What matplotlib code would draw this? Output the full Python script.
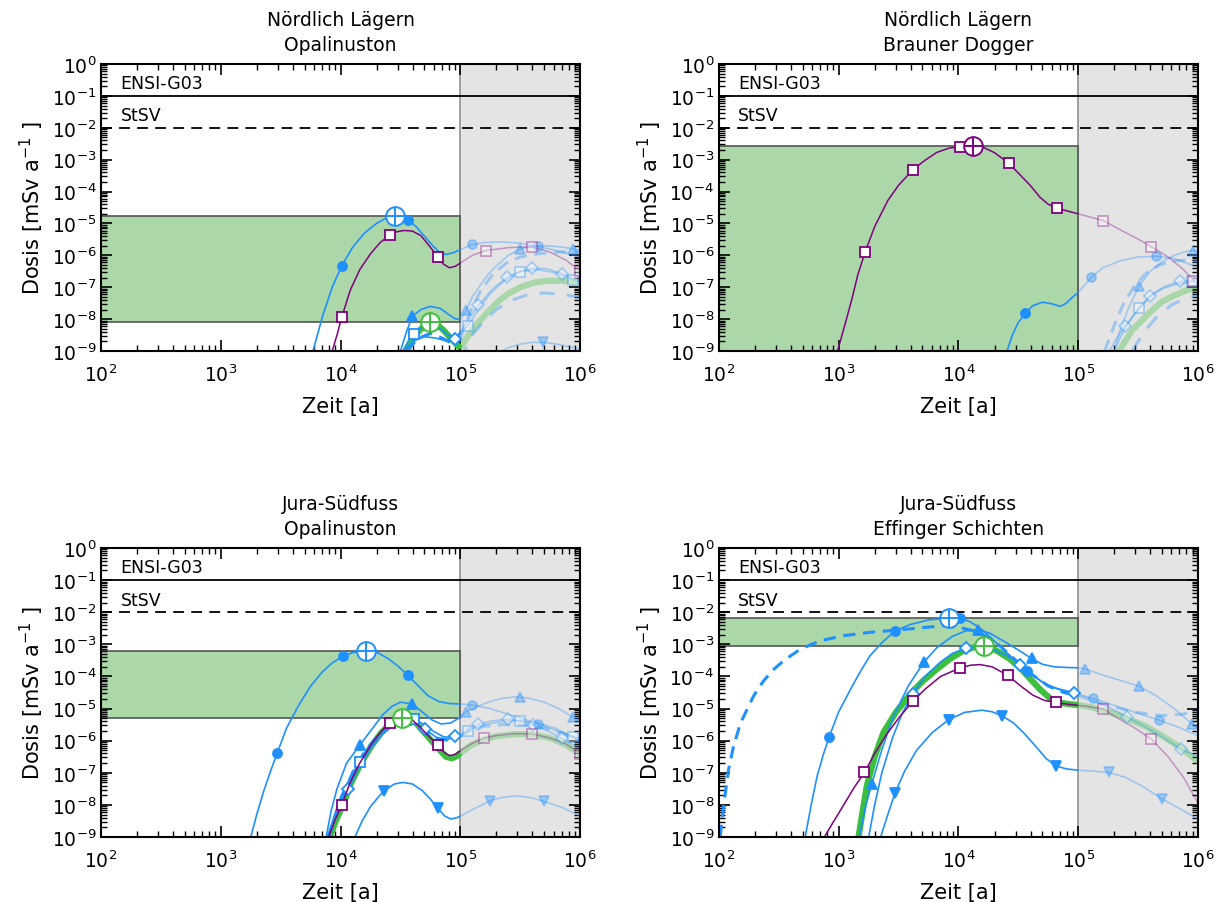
import numpy as np
import matplotlib.pyplot as plt
from matplotlib.ticker import LogLocator, NullFormatter
from matplotlib.patches import Rectangle

# Werte als (log10 Zeit [a], log10 Dosis [mSv/a])

T_CUT = 1e5

TITLES = ["Nördlich Lägern\nOpalinuston",
          "Nördlich Lägern\nBrauner Dogger",
          "Jura-Südfuss\nOpalinuston",
          "Jura-Südfuss\nEffinger Schichten"]

LIMITS = [0.1, 0.01]
LIMIT_NAMES = ["ENSI-G03", "StSV"]

# --- Nördlich Lägern, Opalinuston
NLO_CIRC = [(3.77, -9.0), (3.85, -7.9), (3.93, -7.0), (4.01, -6.33), (4.1, -5.75), (4.2, -5.3),
            (4.3, -5.0), (4.38, -4.83), (4.455, -4.76), (4.5, -4.78), (4.56, -4.88), (4.63, -5.1),
            (4.7, -5.4), (4.77, -5.7), (4.83, -5.92), (4.88, -5.97), (4.94, -5.92), (5.0, -5.82),
            (5.1, -5.66), (5.2, -5.6), (5.35, -5.58), (5.5, -5.62), (5.65, -5.72), (5.8, -5.85),
            (6.0, -6.05)]
NLO_CIRC_MK = [(4.01, -6.33), (4.56, -4.88), (5.1, -5.66), (5.65, -5.72)]
NLO_PURP = [(3.93, -9.0), (3.97, -8.5), (4.01, -7.94), (4.08, -7.1), (4.16, -6.45), (4.25, -5.95),
            (4.33, -5.6), (4.41, -5.37), (4.47, -5.26), (4.53, -5.22), (4.6, -5.24), (4.67, -5.38),
            (4.74, -5.7), (4.81, -6.04), (4.86, -6.28), (4.91, -6.39), (4.96, -6.34), (5.0, -6.24),
            (5.1, -6.0), (5.21, -5.85), (5.4, -5.76), (5.6, -5.73), (5.75, -5.9), (5.88, -6.15),
            (6.0, -6.48)]
NLO_PURP_MK = [(4.01, -7.94), (4.41, -5.37), (4.81, -6.04), (5.21, -5.85), (5.6, -5.73), (6.0, -6.48)]
NLO_TRI = [(4.5, -9.0), (4.55, -8.4), (4.6, -7.91), (4.67, -7.7), (4.75, -7.6), (4.83, -7.66),
           (4.9, -7.85), (4.95, -7.98), (5.0, -8.02), (5.05, -7.73), (5.1, -7.3), (5.165, -6.95),
           (5.23, -6.6), (5.305, -6.32), (5.4, -6.0), (5.5, -5.8), (5.6, -5.72), (5.72, -5.7),
           (5.85, -5.74), (5.94, -5.8), (6.0, -5.84)]
NLO_TRI_MK = [(4.6, -7.91), (5.05, -7.73), (5.5, -5.8), (5.94, -5.8)]
NLO_SQ = [(4.52, -9.0), (4.57, -8.65), (4.61, -8.46), (4.68, -8.25), (4.75, -8.2), (4.83, -8.3),
          (4.9, -8.5), (4.96, -8.55), (5.0, -8.45), (5.06, -8.23), (5.15, -7.7), (5.25, -7.2),
          (5.35, -6.85), (5.5, -6.51), (5.65, -6.45), (5.8, -6.55), (5.94, -6.77), (6.0, -6.85)]
NLO_SQ_MK = [(4.61, -8.46), (5.06, -8.23), (5.5, -6.51), (5.94, -6.77)]
NLO_DIA = [(4.53, -9.0), (4.6, -8.7), (4.7, -8.55), (4.8, -8.6), (4.9, -8.7), (4.956, -8.62),
           (5.0, -8.4), (5.07, -8.0), (5.15, -7.57), (5.27, -7.05), (5.39, -6.69), (5.5, -6.5),
           (5.6, -6.41), (5.72, -6.42), (5.85, -6.58), (6.0, -6.8)]
NLO_DIA_MK = [(4.956, -8.62), (5.15, -7.57), (5.39, -6.69), (5.6, -6.41), (5.85, -6.58)]
NLO_DASH = [(4.55, -9.0), (4.65, -8.6), (4.75, -8.45), (4.85, -8.6), (4.95, -8.8), (5.0, -8.6),
            (5.08, -7.8), (5.17, -7.1), (5.27, -6.6), (5.38, -6.25), (5.5, -6.05), (5.65, -5.95),
            (5.8, -5.9), (6.0, -5.88)]
NLO_DASH2 = [(5.0, -9.3), (5.1, -8.5), (5.2, -8.05), (5.3, -7.7), (5.42, -7.42), (5.55, -7.25),
             (5.7, -7.18), (5.85, -7.22), (6.0, -7.32)]
NLO_TRIDN = [(5.3, -9.1), (5.4, -8.9), (5.5, -8.78), (5.6, -8.73), (5.69, -8.73), (5.8, -8.78),
             (5.9, -8.86), (6.0, -8.95)]
NLO_TRIDN_MK = [(5.69, -8.73)]
NLO_GREEN = [(4.55, -9.0), (4.6, -8.65), (4.66, -8.35), (4.72, -8.15), (4.75, -8.1), (4.8, -8.15),
             (4.86, -8.35), (4.92, -8.6), (4.97, -8.8), (5.0, -8.92), (5.05, -8.6), (5.12, -8.25),
             (5.2, -7.9), (5.3, -7.5), (5.4, -7.2), (5.5, -7.0), (5.62, -6.85), (5.72, -6.8),
             (5.85, -6.8), (6.0, -6.85)]

# --- Nördlich Lägern, Brauner Dogger
NLD_PURP = [(2.99, -9.0), (3.05, -8.2), (3.11, -7.37), (3.16, -6.6), (3.22, -5.9), (3.3, -5.1),
            (3.41, -4.28), (3.5, -3.8), (3.62, -3.31), (3.72, -3.02), (3.82, -2.77), (3.92, -2.64),
            (4.01, -2.59), (4.12, -2.56), (4.2, -2.6), (4.3, -2.78), (4.42, -3.11), (4.52, -3.5),
            (4.6, -3.81), (4.68, -4.18), (4.75, -4.4), (4.82, -4.51), (4.9, -4.6), (5.0, -4.7),
            (5.1, -4.8), (5.21, -4.91), (5.35, -5.2), (5.48, -5.45), (5.61, -5.73), (5.75, -6.05),
            (5.88, -6.45), (6.0, -6.95)]
NLD_PURP_MK = [(3.22, -5.9), (3.62, -3.31), (4.01, -2.59), (4.42, -3.11), (4.82, -4.51),
               (5.21, -4.91), (5.61, -5.73), (5.96, -6.82)]
NLD_CIRC = [(4.405, -9.0), (4.45, -8.5), (4.5, -8.1), (4.558, -7.82), (4.62, -7.58), (4.7, -7.47),
            (4.78, -7.52), (4.85, -7.6), (4.9, -7.5), (4.95, -7.32), (5.0, -7.16), (5.11, -6.69),
            (5.2, -6.4), (5.35, -6.17), (5.5, -6.05), (5.65, -6.03), (5.8, -6.1), (5.96, -6.32),
            (6.0, -6.38)]
NLD_CIRC_MK = [(4.558, -7.82), (5.11, -6.69), (5.65, -6.03)]
NLD_TRI = [(5.3, -9.0), (5.35, -8.35), (5.42, -7.65), (5.51, -6.95), (5.6, -6.5), (5.7, -6.2),
           (5.8, -6.0), (5.9, -5.88), (5.96, -5.85), (6.0, -5.85)]
NLD_TRI_MK = [(5.51, -6.95), (5.96, -5.85)]
NLD_DASH = [(5.22, -9.0), (5.3, -8.2), (5.38, -7.5), (5.47, -6.95), (5.57, -6.55), (5.68, -6.3),
            (5.8, -6.17), (5.9, -6.15), (6.0, -6.2)]
NLD_SQ = [(5.3, -9.0), (5.38, -8.35), (5.45, -7.95), (5.51, -7.65), (5.6, -7.3), (5.7, -7.05),
          (5.82, -6.9), (5.95, -6.84), (6.0, -6.84)]
NLD_SQ_MK = [(5.51, -7.65), (5.95, -6.84)]
NLD_DIA = [(5.26, -9.0), (5.32, -8.6), (5.39, -8.22), (5.5, -7.7), (5.6, -7.26), (5.72, -6.98),
           (5.85, -6.82), (6.0, -6.78)]
NLD_DIA_MK = [(5.39, -8.22), (5.6, -7.26), (5.85, -6.82)]
NLD_DASH2 = [(5.45, -9.0), (5.55, -8.4), (5.65, -7.95), (5.78, -7.55), (5.9, -7.35), (6.0, -7.25)]
NLD_GREEN = [(5.34, -9.0), (5.45, -8.35), (5.6, -7.78), (5.7, -7.45), (5.8, -7.26), (5.9, -7.1),
             (6.0, -7.0)]

# --- Jura-Südfuss, Opalinuston
JSO_CIRC = [(3.25, -9.0), (3.3, -8.3), (3.36, -7.55), (3.42, -6.9), (3.47, -6.39), (3.55, -5.6),
            (3.65, -4.9), (3.75, -4.3), (3.85, -3.85), (3.93, -3.58), (4.02, -3.37), (4.1, -3.26),
            (4.21, -3.2), (4.3, -3.24), (4.4, -3.45), (4.48, -3.68), (4.56, -3.96), (4.65, -4.3),
            (4.73, -4.6), (4.82, -4.78), (4.9, -4.84), (5.0, -4.86), (5.1, -4.89), (5.25, -5.0),
            (5.4, -5.18), (5.55, -5.35), (5.7, -5.55), (5.85, -5.75), (6.0, -5.95)]
JSO_CIRC_MK = [(3.47, -6.39), (4.02, -3.37), (4.56, -3.96), (5.1, -4.89), (5.65, -5.48)]
JSO_TRI = [(3.88, -9.0), (3.92, -8.2), (3.97, -7.5), (4.05, -6.7), (4.16, -6.14), (4.25, -5.7),
           (4.35, -5.2), (4.43, -4.93), (4.5, -4.8), (4.6, -4.86), (4.68, -5.1), (4.76, -5.35),
           (4.84, -5.48), (4.92, -5.45), (5.0, -5.27), (5.05, -5.1), (5.15, -4.92), (5.25, -4.78),
           (5.35, -4.68), (5.45, -4.64), (5.55, -4.66), (5.7, -4.8), (5.82, -5.0), (5.94, -5.27),
           (6.0, -5.38)]
JSO_TRI_MK = [(4.16, -6.14), (4.6, -4.86), (5.05, -5.1), (5.5, -4.65), (5.94, -5.27)]
JSO_SQ = [(3.89, -9.0), (3.95, -8.3), (4.0, -7.75), (4.08, -7.15), (4.158, -6.66), (4.25, -6.1),
          (4.35, -5.7), (4.45, -5.45), (4.53, -5.33), (4.61, -5.33), (4.7, -5.5), (4.78, -5.72),
          (4.86, -5.88), (4.93, -5.9), (5.0, -5.8), (5.1, -5.62), (5.2, -5.5), (5.35, -5.4),
          (5.5, -5.38), (5.65, -5.45), (5.8, -5.62), (5.94, -5.9), (6.0, -6.02)]
JSO_SQ_MK = [(4.158, -6.66), (4.61, -5.33), (5.06, -5.7), (5.5, -5.38), (5.94, -5.9)]
JSO_DIA = [(3.9, -9.0), (3.98, -8.2), (4.066, -7.51), (4.15, -6.85), (4.25, -6.25), (4.35, -5.8),
           (4.45, -5.5), (4.55, -5.42), (4.63, -5.48), (4.707, -5.64), (4.8, -5.9), (4.88, -6.0),
           (4.957, -5.85), (5.05, -5.65), (5.15, -5.48), (5.27, -5.38), (5.4, -5.33), (5.5, -5.38),
           (5.61, -5.51), (5.73, -5.7), (5.85, -5.93), (6.0, -6.25)]
JSO_DIA_MK = [(4.066, -7.51), (4.707, -5.64), (4.957, -5.85), (5.15, -5.48), (5.4, -5.33),
              (5.61, -5.51), (5.85, -5.93)]
JSO_DASH = [(3.9, -9.0), (4.0, -7.9), (4.1, -7.0), (4.2, -6.35), (4.3, -5.9), (4.4, -5.6),
            (4.5, -5.45), (4.6, -5.5), (4.7, -5.7), (4.8, -5.92), (4.9, -5.98), (5.0, -5.85),
            (5.1, -5.65), (5.2, -5.55), (5.35, -5.5), (5.5, -5.5), (5.7, -5.6), (5.85, -5.78),
            (6.0, -6.0)]
JSO_PURP = [(3.9, -9.0), (3.95, -8.5), (4.01, -8.0), (4.08, -7.3), (4.16, -6.7), (4.25, -6.15),
            (4.33, -5.75), (4.41, -5.44), (4.47, -5.33), (4.53, -5.31), (4.6, -5.36), (4.67, -5.6),
            (4.74, -5.88), (4.81, -6.12), (4.86, -6.35), (4.91, -6.47), (4.96, -6.42), (5.0, -6.31),
            (5.1, -6.08), (5.2, -5.92), (5.3, -5.84), (5.45, -5.78), (5.6, -5.79), (5.75, -5.92),
            (5.88, -6.1), (6.0, -6.4)]
JSO_PURP_MK = [(4.01, -8.0), (4.41, -5.44), (4.81, -6.12), (5.2, -5.92), (5.6, -5.79), (6.0, -6.4)]
JSO_TRIDN = [(4.12, -9.0), (4.18, -8.5), (4.25, -8.05), (4.36, -7.56), (4.45, -7.35), (4.52, -7.3),
             (4.6, -7.35), (4.68, -7.55), (4.75, -7.82), (4.81, -8.1), (4.87, -8.35), (4.92, -8.44),
             (4.97, -8.4), (5.0, -8.35), (5.1, -8.15), (5.25, -7.87), (5.35, -7.77), (5.47, -7.72),
             (5.6, -7.78), (5.695, -7.89), (5.85, -8.08), (6.0, -8.35)]
JSO_TRIDN_MK = [(4.36, -7.56), (4.81, -8.1), (5.25, -7.87), (5.695, -7.89)]
JSO_GREEN = [(3.91, -9.0), (3.96, -8.5), (4.02, -8.0), (4.09, -7.3), (4.17, -6.7), (4.26, -6.15),
             (4.34, -5.75), (4.42, -5.44), (4.47, -5.34), (4.51, -5.30), (4.57, -5.33), (4.63, -5.45),
             (4.7, -5.75), (4.77, -6.05), (4.83, -6.3), (4.88, -6.5), (4.93, -6.55), (4.97, -6.48),
             (5.0, -6.38), (5.1, -6.12), (5.2, -5.96), (5.3, -5.86), (5.45, -5.8), (5.6, -5.8),
             (5.75, -5.92), (5.88, -6.12), (6.0, -6.42)]

# --- Jura-Südfuss, Effinger Schichten
JSE_DASH = [(2.01, -9.0), (2.04, -8.0), (2.08, -6.9), (2.12, -6.2), (2.18, -5.45), (2.29, -4.6),
            (2.37, -4.15), (2.45, -3.8), (2.55, -3.48), (2.68, -3.15), (2.845, -2.89), (3.04, -2.73),
            (3.25, -2.63), (3.47, -2.56), (3.7, -2.48), (3.875, -2.42), (4.0, -2.47), (4.155, -2.6),
            (4.3, -2.9), (4.45, -3.4), (4.6, -3.9), (4.75, -4.3), (4.88, -4.5), (5.0, -4.6),
            (5.2, -4.85), (5.45, -5.1), (5.69, -5.22), (5.85, -5.18), (6.0, -5.1)]
JSE_CIRC = [(2.72, -9.0), (2.77, -8.0), (2.82, -7.1), (2.87, -6.45), (2.92, -5.88), (3.0, -5.1),
            (3.1, -4.39), (3.18, -3.85), (3.26, -3.36), (3.36, -2.95), (3.47, -2.58), (3.6, -2.38),
            (3.75, -2.24), (3.917, -2.18), (4.015, -2.19), (4.1, -2.3), (4.2, -2.55), (4.3, -2.9),
            (4.4, -3.25), (4.5, -3.58), (4.57, -3.82), (4.65, -4.05), (4.75, -4.28), (4.85, -4.42),
            (5.0, -4.55), (5.12, -4.68), (5.3, -4.9), (5.5, -5.15), (5.67, -5.35), (5.85, -5.6),
            (6.0, -5.85)]
JSE_CIRC_MK = [(2.92, -5.88), (3.47, -2.58), (4.015, -2.19), (4.57, -3.82), (5.12, -4.68),
               (5.67, -5.35)]
JSE_TRI = [(3.17, -9.0), (3.22, -8.1), (3.276, -7.35), (3.35, -6.4), (3.45, -5.3), (3.58, -4.3),
           (3.71, -3.56), (3.82, -3.1), (3.95, -2.75), (4.06, -2.58), (4.16, -2.55), (4.26, -2.65),
           (4.4, -2.95), (4.51, -3.2), (4.61, -3.44), (4.7, -3.62), (4.8, -3.7), (4.9, -3.72),
           (5.0, -3.73), (5.06, -3.77), (5.2, -3.95), (5.35, -4.12), (5.51, -4.31), (5.65, -4.6),
           (5.8, -5.0), (5.95, -5.48), (6.0, -5.62)]
JSE_TRI_MK = [(3.276, -7.35), (3.71, -3.56), (4.16, -2.55), (4.61, -3.44), (5.06, -3.77),
              (5.51, -4.31), (5.95, -5.48)]
JSE_DIA = [(3.25, -9.0), (3.3, -8.0), (3.36, -7.0), (3.45, -5.9), (3.53, -5.15), (3.616, -4.55),
           (3.72, -4.0), (3.85, -3.55), (3.95, -3.28), (4.066, -3.12), (4.18, -3.07), (4.3, -3.18),
           (4.42, -3.38), (4.516, -3.63), (4.6, -3.9), (4.7, -4.18), (4.8, -4.35), (4.9, -4.45),
           (4.963, -4.5), (5.1, -4.72), (5.25, -4.95), (5.41, -5.27), (5.55, -5.55), (5.7, -5.88),
           (5.855, -6.26), (6.0, -6.5)]
JSE_DIA_MK = [(3.616, -4.55), (4.066, -3.12), (4.516, -3.63), (4.963, -4.5), (5.41, -5.27),
              (5.855, -6.26)]
JSE_PURP = [(2.88, -9.0), (2.96, -8.5), (3.05, -7.95), (3.13, -7.45), (3.215, -6.99), (3.3, -6.4),
            (3.4, -5.8), (3.5, -5.3), (3.616, -4.78), (3.72, -4.4), (3.85, -4.0), (4.015, -3.73),
            (4.1, -3.65), (4.18, -3.63), (4.28, -3.7), (4.41, -3.96), (4.52, -4.3), (4.62, -4.58),
            (4.72, -4.75), (4.815, -4.81), (4.9, -4.86), (5.0, -4.9), (5.1, -4.95), (5.21, -5.02),
            (5.33, -5.3), (5.47, -5.6), (5.61, -5.95), (5.75, -6.5), (5.88, -7.15), (6.0, -7.95)]
JSE_PURP_MK = [(3.215, -6.99), (3.616, -4.78), (4.015, -3.73), (4.41, -3.96), (4.815, -4.81),
               (5.21, -5.02), (5.61, -5.95)]
JSE_TRIDN = [(3.35, -9.0), (3.41, -8.3), (3.47, -7.63), (3.55, -6.95), (3.65, -6.3), (3.78, -5.75),
             (3.917, -5.35), (4.05, -5.12), (4.196, -5.05), (4.28, -5.1), (4.36, -5.22), (4.46, -5.45),
             (4.55, -5.78), (4.65, -6.2), (4.73, -6.55), (4.81, -6.78), (4.9, -6.88), (5.0, -6.92),
             (5.13, -6.95), (5.255, -6.99), (5.4, -7.15), (5.55, -7.45), (5.7, -7.82), (5.85, -8.12),
             (6.0, -8.45)]
JSE_TRIDN_MK = [(3.47, -7.63), (3.917, -5.35), (4.36, -5.22), (4.81, -6.78), (5.255, -6.99),
                (5.7, -7.82)]
JSE_GREEN = [(3.165, -9.0), (3.2, -8.2), (3.235, -7.4), (3.3, -6.5), (3.374, -5.74), (3.48, -5.1),
             (3.597, -4.55), (3.7, -4.15), (3.82, -3.77), (3.93, -3.45), (4.04, -3.2), (4.13, -3.09),
             (4.216, -3.06), (4.32, -3.2), (4.43, -3.46), (4.52, -3.75), (4.6, -4.08), (4.68, -4.4),
             (4.77, -4.7), (4.85, -4.82), (4.92, -4.86), (5.0, -4.89), (5.1, -4.95), (5.2, -5.05),
             (5.35, -5.22), (5.55, -5.53), (5.7, -5.85), (5.85, -6.2), (6.0, -6.65)]

BLUE = '#1e90ff'
PURPLE = '#800080'
GREEN = '#3cbf3c'

STYLES = {
    'circ':  dict(color=BLUE, ls='-', lw=1.2, marker='o', mfc=BLUE, ms=6.5, z=5),
    'tri':   dict(color=BLUE, ls='-', lw=1.2, marker='^', mfc=BLUE, ms=7, z=5),
    'tridn': dict(color=BLUE, ls='-', lw=1.2, marker='v', mfc=BLUE, ms=7, z=5),
    'sq':    dict(color=BLUE, ls='-', lw=1.2, marker='s', mfc='white', ms=7, z=5),
    'dia':   dict(color=BLUE, ls='-', lw=1.2, marker='D', mfc='white', ms=6, z=5),
    'dash':  dict(color=BLUE, ls=(0, (4, 2.5)), lw=2.2, marker=None, mfc=None, ms=0, z=5),
    'dash2': dict(color=BLUE, ls=(0, (5, 4)), lw=2.2, marker=None, mfc=None, ms=0, z=5),
    'purp':  dict(color=PURPLE, ls='-', lw=1.1, marker='s', mfc='white', ms=7.5, z=6),
    'green': dict(color=GREEN, ls='-', lw=4.5, marker=None, mfc=None, ms=0, z=4),
}

PANELS = [
    [(NLO_GREEN, None, 'green'), (NLO_DASH2, None, 'dash2'), (NLO_DASH, None, 'dash'),
     (NLO_TRIDN, NLO_TRIDN_MK, 'tridn'), (NLO_DIA, NLO_DIA_MK, 'dia'), (NLO_SQ, NLO_SQ_MK, 'sq'),
     (NLO_TRI, NLO_TRI_MK, 'tri'), (NLO_CIRC, NLO_CIRC_MK, 'circ'), (NLO_PURP, NLO_PURP_MK, 'purp')],
    [(NLD_GREEN, None, 'green'), (NLD_DASH2, None, 'dash2'), (NLD_DASH, None, 'dash'),
     (NLD_DIA, NLD_DIA_MK, 'dia'), (NLD_SQ, NLD_SQ_MK, 'sq'), (NLD_TRI, NLD_TRI_MK, 'tri'),
     (NLD_CIRC, NLD_CIRC_MK, 'circ'), (NLD_PURP, NLD_PURP_MK, 'purp')],
    [(JSO_GREEN, None, 'green'), (JSO_DASH, None, 'dash'), (JSO_TRIDN, JSO_TRIDN_MK, 'tridn'),
     (JSO_DIA, JSO_DIA_MK, 'dia'), (JSO_SQ, JSO_SQ_MK, 'sq'), (JSO_TRI, JSO_TRI_MK, 'tri'),
     (JSO_CIRC, JSO_CIRC_MK, 'circ'), (JSO_PURP, JSO_PURP_MK, 'purp')],
    [(JSE_GREEN, None, 'green'), (JSE_DASH, None, 'dash'), (JSE_TRIDN, JSE_TRIDN_MK, 'tridn'),
     (JSE_DIA, JSE_DIA_MK, 'dia'), (JSE_TRI, JSE_TRI_MK, 'tri'), (JSE_CIRC, JSE_CIRC_MK, 'circ'),
     (JSE_PURP, JSE_PURP_MK, 'purp')],
]

AX_POS = [(0.0829, 0.6102, 0.393, 0.3178), (0.5898, 0.6102, 0.393, 0.3178),
          (0.0829, 0.0720, 0.393, 0.3200), (0.5898, 0.0720, 0.393, 0.3200)]

LIGHT = 0.35


def to_lin(pts):
    t = np.power(10.0, np.array([p[0] for p in pts]))
    d = np.power(10.0, np.array([p[1] for p in pts]))
    return t, d


def draw_curve(ax, pts, marks, key):
    st = STYLES[key]
    t, d = to_lin(pts)
    kw = dict(color=st['color'], ls=st['ls'], lw=st['lw'], solid_capstyle='butt',
              dash_capstyle='butt')
    ax.plot(t[t >= T_CUT], d[t >= T_CUT], alpha=LIGHT, zorder=3, **kw)
    ax.plot(t[t <= T_CUT], d[t <= T_CUT], zorder=st['z'], **kw)
    if marks:
        mt, md = to_lin(marks)
        mk = dict(ls='none', marker=st['marker'], ms=st['ms'], mfc=st['mfc'],
                  mec=st['color'], mew=1.3)
        ax.plot(mt[mt > T_CUT], md[mt > T_CUT], alpha=LIGHT, zorder=3.5, **mk)
        ax.plot(mt[mt <= T_CUT], md[mt <= T_CUT], zorder=st['z'] + 0.5, **mk)


def dark_peak(pts):
    t, d = to_lin(pts)
    m = t <= T_CUT
    if not m.any():
        return None
    i = np.argmax(np.where(m, d, -np.inf))
    return t[i], d[i]


def peak_marker(ax, pk, color):
    if pk is None:
        return
    ax.plot([pk[0]], [pk[1]], 'o', ms=13.5, mfc='white', mec=color, mew=1.4, zorder=9)
    ax.plot([pk[0]], [pk[1]], '+', ms=12.5, mec=color, mew=1.4, zorder=10)


fig = plt.figure(figsize=(12.19, 9.03), dpi=100)

for k, (title, curves) in enumerate(zip(TITLES, PANELS)):
    ax = fig.add_axes(AX_POS[k])
    ax.set_xscale('log')
    ax.set_yscale('log')
    ax.set_xlim(1e2, 1e6)
    ax.set_ylim(1e-9, 1e0)

    ax.axvspan(T_CUT, 1e6, color='#e4e4e4', zorder=0, lw=0)
    ax.axvline(T_CUT, color='#999999', lw=1.3, zorder=0.5)

    # Bandbreite aus den Maxima vor 1e5 Jahren
    peaks = []
    for pts, marks, key in curves:
        pk = dark_peak(pts)
        if pk is not None:
            peaks.append((pk, STYLES[key]['color']))
    top_pk, top_col = max(peaks, key=lambda p: p[0][1])
    green_pk = dark_peak(curves[0][0])
    lo = green_pk[1] if green_pk is not None else 1e-12
    ax.add_patch(Rectangle((1e2, lo), T_CUT - 1e2, top_pk[1] - lo, fc='#acd7a8',
                           ec='#555555', lw=1.2, zorder=1))

    for val, name, ls in zip(LIMITS, LIMIT_NAMES, ['-', (0, (6, 4))]):
        ax.axhline(val, color='black', lw=1.3, ls=ls, zorder=2)
        ax.text(1.45e2, val * 1.3, name, fontsize=12.5, va='bottom', ha='left', zorder=2)

    for pts, marks, key in curves:
        draw_curve(ax, pts, marks, key)

    peak_marker(ax, top_pk, top_col)
    peak_marker(ax, green_pk, GREEN)

    ax.set_title(title, fontsize=13.5, pad=10, linespacing=1.4)
    ax.set_xlabel('Zeit [a]', fontsize=15, labelpad=8)
    ax.set_ylabel('Dosis [mSv a$^{-1}$ ]', fontsize=15, labelpad=4)

    ax.xaxis.set_major_locator(LogLocator(base=10, numticks=20))
    ax.yaxis.set_major_locator(LogLocator(base=10, numticks=20))
    ax.xaxis.set_minor_locator(LogLocator(base=10, subs=np.arange(2, 10), numticks=100))
    ax.yaxis.set_minor_locator(LogLocator(base=10, subs=np.arange(2, 10), numticks=100))
    ax.xaxis.set_minor_formatter(NullFormatter())
    ax.yaxis.set_minor_formatter(NullFormatter())
    ax.tick_params(which='both', direction='in', top=True, right=True, labelsize=13.5)
    ax.tick_params(axis='x', which='major', pad=9)
    ax.tick_params(which='major', length=8, width=1.2)
    ax.tick_params(which='minor', length=4, width=1.0)
    for sp in ax.spines.values():
        sp.set_linewidth(1.5)
        sp.set_zorder(12)

fig.savefig('out.png', dpi=100)
